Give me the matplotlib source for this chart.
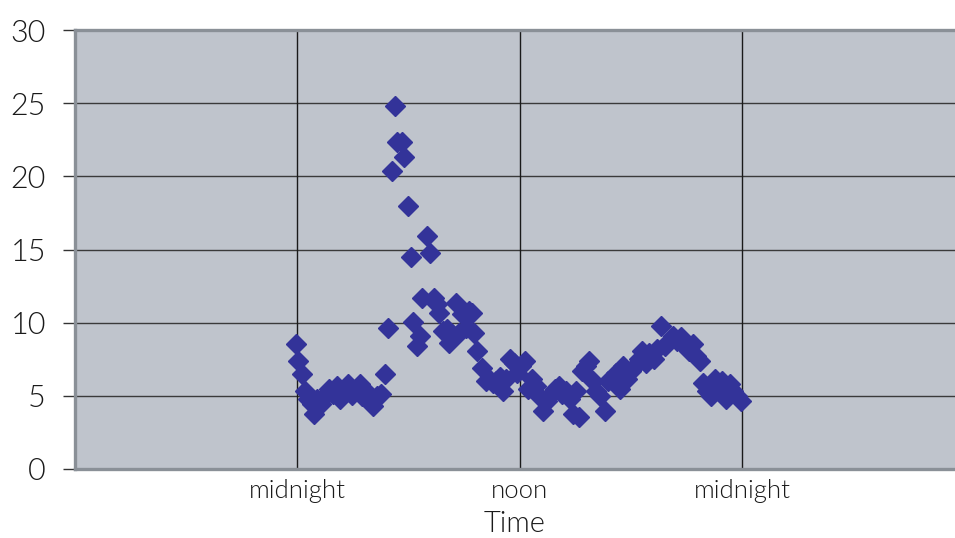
import matplotlib
matplotlib.use("Agg")
import matplotlib.pyplot as plt

# hours after the first midnight
hours = [-0.05, 0.05, 0.27, 0.43, 0.59, 0.81, 0.92, 1.08, 1.29, 1.51, 1.73, 1.94, 2.16, 2.32,
         2.54, 2.75, 2.97, 3.18, 3.40, 3.51, 3.72, 3.94, 4.10, 4.31, 4.53, 4.75, 4.91, 5.12,
         5.29, 5.39, 5.66, 5.77, 5.99, 6.15, 6.26, 6.47, 6.63, 6.74, 7.01, 7.17, 7.39, 7.55,
         7.66, 7.87, 8.09, 8.20, 8.36, 8.58, 8.74, 8.90, 9.12, 9.28, 9.44, 9.55, 9.71, 9.98,
         10.19, 10.36, 10.57, 10.73, 10.95, 11.11, 11.27, 11.49, 11.70, 11.87, 12.08, 12.30,
         12.46, 12.68, 12.89, 13.05, 13.27, 13.48, 13.70, 13.92, 14.13, 14.29, 14.51, 14.72,
         14.89, 15.05, 15.21, 15.37, 15.59, 15.75, 15.97, 16.13, 16.34, 16.61, 16.77, 16.99,
         17.21, 17.42, 17.58, 17.80, 18.02, 18.23, 18.45, 18.61, 18.82, 18.99, 19.26, 19.42,
         19.63, 19.85, 20.06, 20.28, 20.50, 20.71, 20.93, 21.14, 21.36, 21.52, 21.74, 21.90,
         22.11, 22.33, 22.55, 22.76, 22.92, 23.14, 23.36, 23.52, 23.73, 23.95]
values = [8.56, 7.40, 6.51, 5.34, 4.79, 4.45, 3.77, 4.79, 4.45, 5.00, 5.48, 5.14, 5.68, 4.79,
          5.34, 5.82, 5.07, 5.48, 5.82, 5.00, 5.34, 4.79, 4.32, 5.00, 5.14, 6.51, 9.66, 20.34,
          24.79, 22.33, 22.33, 21.30, 17.95, 14.52, 10.07, 8.42, 9.11, 11.71, 15.89, 14.79,
          11.71, 11.30, 10.68, 9.45, 9.59, 8.63, 9.25, 11.37, 9.32, 10.62, 9.66, 10.82, 10.68,
          9.32, 8.08, 6.92, 6.03, 6.16, 5.89, 6.03, 6.30, 5.34, 6.16, 7.53, 7.26, 6.58, 7.05,
          7.40, 5.48, 6.16, 5.68, 5.00, 3.97, 4.66, 5.14, 5.48, 5.68, 5.14, 5.34, 4.79, 3.77,
          5.34, 3.56, 6.71, 7.05, 7.40, 6.03, 5.34, 5.00, 3.97, 6.03, 6.16, 6.58, 5.48, 7.05,
          6.16, 6.71, 7.05, 7.53, 8.08, 7.26, 7.95, 7.53, 8.22, 9.79, 8.42, 8.77, 9.11, 8.77,
          9.04, 8.42, 8.08, 8.56, 7.74, 7.40, 5.89, 5.34, 5.00, 6.16, 5.68, 6.03, 4.79, 5.82,
          5.34, 5.00, 4.66]

x_tick_pos = [0, 12, 24]
x_tick_labels = ["midnight", "noon", "midnight"]
y_ticks = [0, 5, 10, 15, 20, 25, 30]
x_label = "Time"

FONT = "Lato"
WT = 300
TXT = "#1a1a1a"
W, H = 955, 538
fig = plt.figure(figsize=(W / 100, H / 100), dpi=100)
ax = fig.add_axes([75 / W, 1 - 469 / H, 1 - 75 / W, (469 - 30) / H])
ax.set_facecolor("#bfc4cc")

ax.set_xlim(-12, 35.5)
ax.set_ylim(0, 30)

for yv in y_ticks[1:-1]:
    ax.axhline(yv, color="#3a3a3a", lw=1.0, zorder=1)
for xv in [0, 12, 24]:
    ax.axvline(xv, color="#1a1a1a", lw=1.0, zorder=1)

ax.plot(hours, values, linestyle="none", marker="D", markersize=10.5,
        color="#333399", markeredgecolor="#333399", zorder=3)

for side in ["left", "top", "bottom"]:
    ax.spines[side].set_color("#8a9097")
    ax.spines[side].set_linewidth(2.4)
ax.spines["right"].set_visible(False)

ax.set_yticks(y_ticks)
ax.set_yticklabels([str(v) for v in y_ticks], fontsize=22, family=FONT,
                   fontweight=WT, color=TXT)
ax.tick_params(axis="y", length=9, width=1.0, color="#333333", pad=12)

ax.set_xticks(x_tick_pos)
ax.set_xticklabels(x_tick_labels, fontsize=18.5, family=FONT, fontweight=WT,
                   color=TXT)
ax.tick_params(axis="x", length=0, pad=7)
ax.set_xlabel(x_label, fontsize=21, family=FONT, fontweight=WT,
              color=TXT, labelpad=6)

fig.savefig("out.png", dpi=100)
